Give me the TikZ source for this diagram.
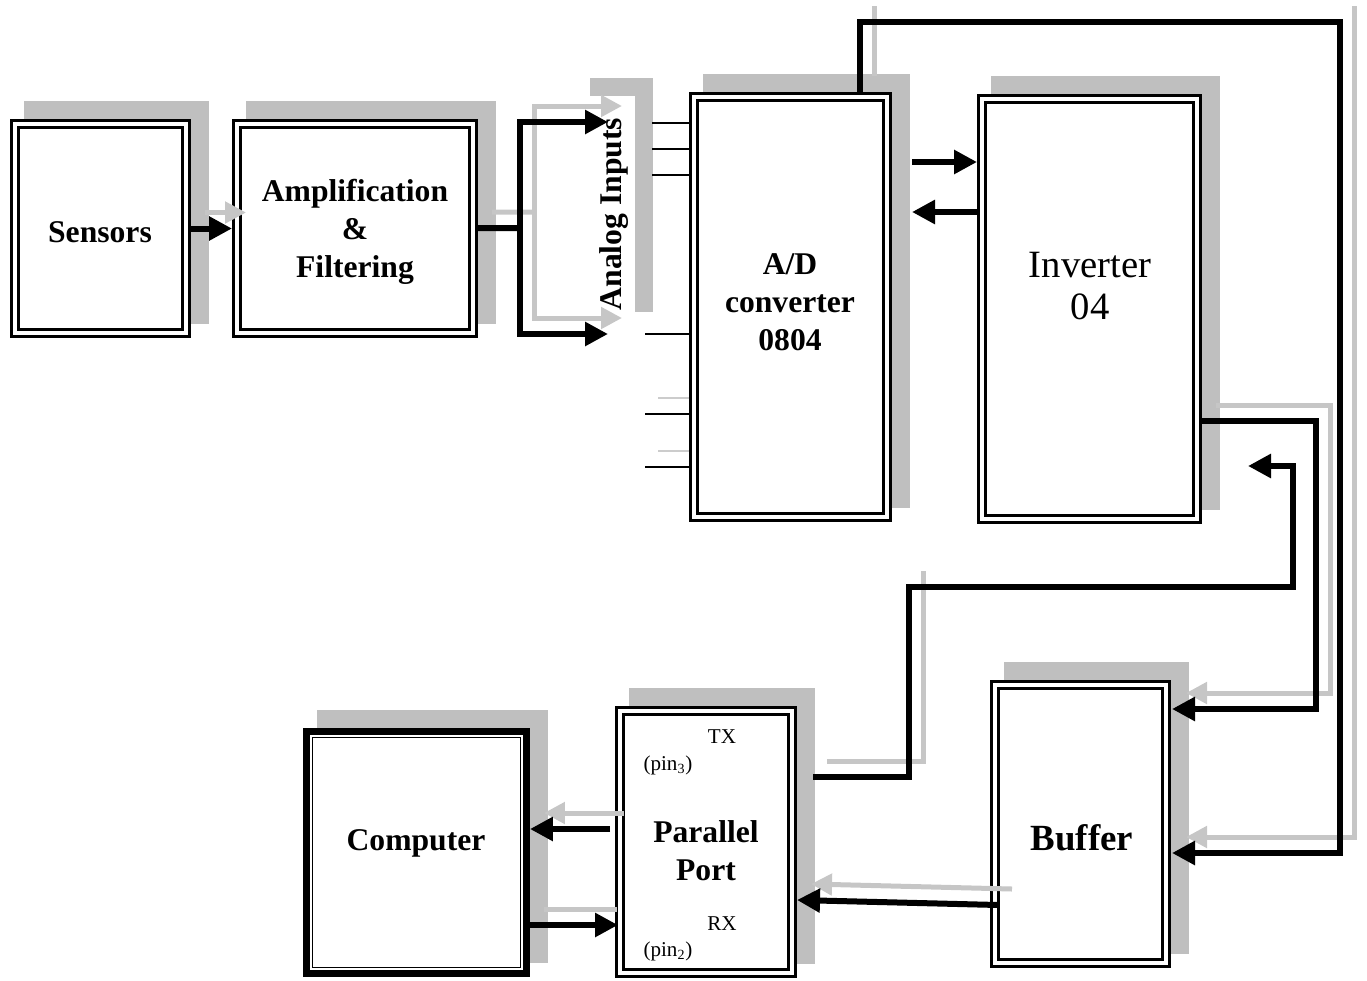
\documentclass[tikz,border=0pt]{standalone}
\usepackage{fontspec}
\setmainfont{Liberation Serif}
\usetikzlibrary{arrows.meta, positioning, backgrounds}

\begin{document}
\begin{tikzpicture}[x=0.02cm, y=-0.02cm,
    block/.style={rectangle, draw=black, line width=0.06cm, double=white,
      double distance=0.08cm, fill=white, outer sep=0.1cm},
    pcblock/.style={rectangle, draw=black, line width=0.14cm, fill=white,
      outer sep=0.07cm},
    blocktext/.style={align=center, font=\bfseries\fontsize{18}{21.5}\selectfont},
    shadowfill/.style={fill=gray!50},
    flow/.style={line width=0.12cm, -{Triangle[length=0.46cm, width=0.46cm]}},
    wire/.style={line width=0.12cm},
    ghost/.style={draw=gray!45, line width=0.1cm,
      transform canvas={shift={(0.28cm,0.32cm)}}},
    ghostflow/.style={ghost, -{Triangle[length=0.42cm, width=0.42cm]}},
    pinline/.style={line width=0.025cm},
    pinlabel/.style={font=\fontsize{12}{14}\selectfont, inner sep=0pt}
  ]
  \useasboundingbox (0,0) rectangle (1367,981);

  % blocks
  \node[block, minimum width=3.42cm, minimum height=4.18cm] (sensors) at (100.5,228.5) {};
  \node[block, minimum width=4.72cm, minimum height=4.18cm] (amp) at (355,228.5) {};
  \node[fill=white, inner sep=0pt, outer sep=0pt, minimum width=1.18cm, minimum height=4.6cm] (ainbox) at (605.5,211) {};
  \node[block, minimum width=3.86cm, minimum height=8.4cm] (adc) at (790.5,307) {};
  \node[block, minimum width=4.3cm, minimum height=8.4cm] (inv) at (1089.5,309) {};
  \node[block, minimum width=3.42cm, minimum height=5.56cm] (buffer) at (1080.5,824) {};
  \node[block, minimum width=3.44cm, minimum height=5.24cm] (port) at (706,842) {};
  \node[pcblock, minimum width=4.4cm, minimum height=4.84cm] (computer) at (416.5,852.5) {};
  \draw[line width=0.03cm] ([shift={(0.19cm,0.19cm)}]computer.south west) rectangle ([shift={(-0.19cm,-0.19cm)}]computer.north east);

  % shadows
  \begin{scope}[on background layer]
    \foreach \n in {sensors,amp,ainbox,adc,inv,buffer,port,computer}
      \fill[shadowfill] ([shift={(0.28cm,0.28cm)}]\n.south west) rectangle ([shift={(0.36cm,0.36cm)}]\n.north east);
  \end{scope}

  % labels
  \node[blocktext] (sensorslabel) at (100,232) {Sensors};
  \node[blocktext] (amplabel) at (355,232) {Amplification\\\&\\Filtering};
  \node[blocktext, rotate=90] (ain) at (614,214) {Analog Inputs};
  \node[blocktext] (adclabel) at (790,302) {A/D\\converter\\0804};
  \node[font=\fontsize{22}{23.5}\selectfont, align=center] (invlabel) at (1090,286) {Inverter\\04};
  \node[font=\bfseries\fontsize{21}{24}\selectfont] (buflabel) at (1082,838) {Buffer};
  \node[blocktext] (portlabel) at (706,851) {Parallel\\Port};
  \node[blocktext] (pclabel) at (416,843) {Computer};
  \node[pinlabel] (tx) at (722,737) {TX};
  \node[pinlabel] (txpin) at (668,765) {(pin\textsubscript{3})};
  \node[pinlabel] (rx) at (722,924) {RX};
  \node[pinlabel] (rxpin) at (668,951) {(pin\textsubscript{2})};

  % connector points
  \coordinate (split) at (520,228);
  \coordinate (ain1) at (608,122);
  \coordinate (ain2) at (608,334);
  \coordinate (adcR1) at (912,162);
  \coordinate (adcR2) at (912,212);
  \coordinate (topL) at (860,22);
  \coordinate (topR) at (1340,22);
  \coordinate (bufIn2) at (1172,853);
  \coordinate (invR) at (1316,421);
  \coordinate (bufIn1) at (1172,709);
  \coordinate (txOut) at (813,777);
  \coordinate (txA) at (909,587);
  \coordinate (txB) at (1293,466);
  \coordinate (invIn) at (1248,466);
  \coordinate (bufOut) at (998,905);
  \coordinate (rxIn) at (797,900);
  \coordinate (pcOut) at (610,829);
  \coordinate (pcIn) at (618,925);

  % input pins of the converter
  \foreach \y in {123,149,175}
    \draw[pinline] (adc.west |- 0,\y) -- ++(-37,0);
  \foreach \y in {334,414,467}
    \draw[pinline] (adc.west |- 0,\y) -- ++(-44,0);
  \foreach \y in {398,451}
    \draw[pinline, draw=gray!40, line width=0.04cm] (adc.west |- 0,\y) -- ++(-31,0);

  % faint offset copies
  \draw[ghostflow] (sensors) -- (amp);
  \draw[ghost] (amp) -- (split);
  \draw[ghostflow] (split) |- (ain1);
  \draw[ghostflow] (split) |- (ain2);
  \draw[ghost] (topL |- adc.north) -- (topL);
  \draw[ghostflow] (topR) |- (bufIn2);
  \draw[ghostflow] (inv.east |- invR) -- (invR) |- (bufIn1);
  \draw[ghost] (txOut) -| (txA);
  \draw[ghostflow] (bufOut) -- (rxIn);
  \draw[ghostflow] (pcOut) -- (pcOut -| computer.east);
  \draw[ghost] (computer.east |- pcIn) -- ([xshift=-0.3cm]pcIn);

  % connectors
  \draw[flow] (sensors) -- (amp);
  \draw[wire] (amp) -- (split);
  \draw[flow] (split) |- (ain1);
  \draw[flow] (split) |- (ain2);
  \draw[flow] (adcR1) -- (adcR1 -| inv.west);
  \draw[flow] (adcR2 -| inv.west) -- (adcR2);
  \draw[flow] (topL |- adc.north) -- (topL) -- (topR) |- (bufIn2);
  \draw[flow] (inv.east |- invR) -- (invR) |- (bufIn1);
  \draw[flow] (txOut) -| (txA) -| (txB) -- (invIn);
  \draw[flow] (bufOut) -- (rxIn);
  \draw[flow] (pcOut) -- (pcOut -| computer.east);
  \draw[flow] (computer.east |- pcIn) -- (pcIn);
\end{tikzpicture}
\end{document}
